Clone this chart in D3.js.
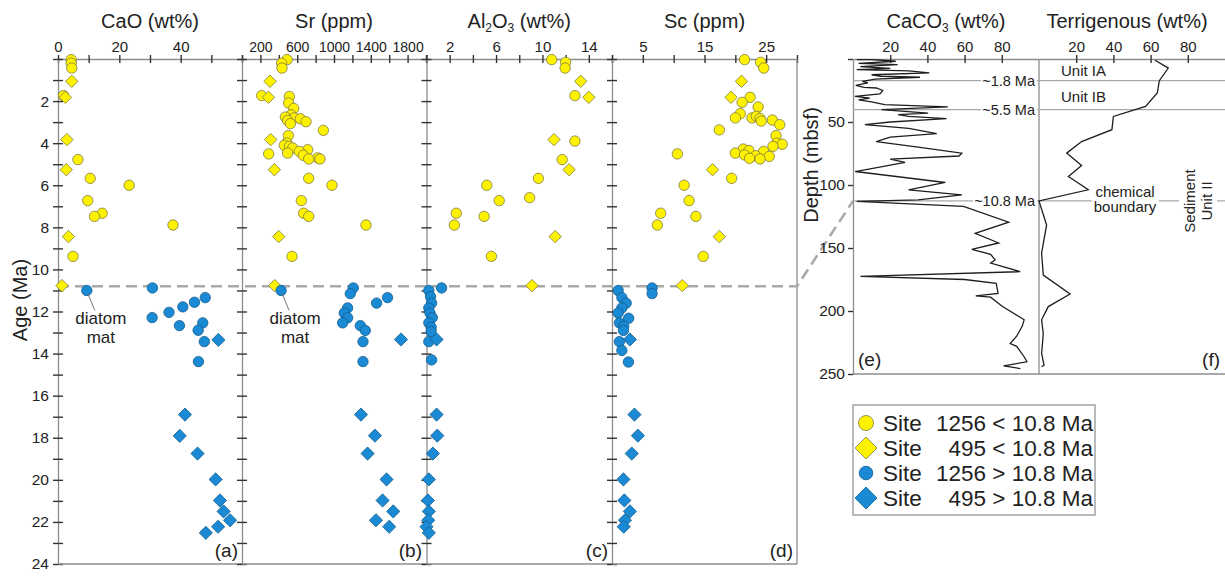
<!DOCTYPE html>
<html>
<head>
<meta charset="utf-8">
<script src="https://cdn.jsdelivr.net/npm/d3@7"></script>
<style>
  body { margin: 0; background: #fff; }
  svg { display: block; font-family: "Liberation Sans", Arial, sans-serif; }
</style>
</head>
<body>
<svg id="chart" width="1225" height="577"></svg>
<script>
// ---- data: [age (Ma), value] ----
var caoYoung1256 = [[0.03,4.3],[0.2,4.3],[0.43,4.5],[1.74,1.8],[4.78,6.5],[5.67,10.5],[6.0,23.2],[6.73,9.7],[7.33,14.4],[7.48,11.9],[7.89,37.5],[9.38,4.9]]
var caoYoung495 = [[1.06,4.5],[1.82,2.4],[3.83,2.9],[5.26,2.7],[8.44,3.4],[10.77,1.3]]
var caoOld1256 = [[10.88,30.8],[11.0,9.4],[11.34,48.0],[11.56,44.5],[11.78,40.7],[12.04,36.2],[12.29,30.7],[12.54,47.2],[12.67,39.6],[12.89,45.7],[13.43,47.7],[14.38,45.8]]
var caoOld495 = [[13.35,52.3],[16.9,41.4],[17.91,39.7],[18.75,45.5],[19.98,51.4],[20.98,52.8],[21.5,54.0],[21.92,56.1],[22.23,52.2],[22.52,48.2]]

var srYoung1256 = [[0.03,490],[0.2,431],[0.43,435],[1.74,214],[1.78,515],[2.09,507],[2.35,562],[2.65,533],[2.76,471],[2.8,569],[2.84,634],[2.92,496],[2.98,696],[3.07,526],[3.39,884],[3.64,504],[3.99,486],[4.1,460],[4.15,515],[4.23,551],[4.31,714],[4.39,623],[4.47,496],[4.51,290],[4.58,667],[4.7,822],[4.75,725],[4.75,848],[5.67,725],[6.0,978],[6.73,645],[7.33,670],[7.48,725],[7.89,1348],[9.38,544]]
var srYoung495 = [[1.06,305],[1.82,287],[3.83,312],[5.26,352],[8.44,399],[10.77,355]]
var srOld1256 = [[10.88,1210],[11.0,425],[11.15,1177],[11.34,1582],[11.6,1463],[11.83,1148],[12.07,1112],[12.3,1148],[12.54,1094],[12.67,1286],[12.9,1340],[13.43,1315],[14.38,1315]]
var srOld495 = [[13.33,1728],[16.9,1293],[17.9,1445],[18.75,1365],[19.98,1571],[20.98,1528],[21.5,1644],[21.92,1456],[22.23,1600]]

var alYoung1256 = [[0.03,10.8],[0.16,12.0],[0.43,11.96],[1.74,12.8],[3.9,12.8],[4.78,11.7],[5.67,9.65],[6.0,5.2],[6.59,8.9],[6.73,6.27],[7.33,2.57],[7.48,4.97],[7.89,2.4],[9.38,5.6]]
var alYoung495 = [[1.06,13.3],[1.82,14.0],[3.83,11.0],[5.26,12.3],[8.44,11.1],[10.77,9.1]]
var alOld1256 = [[10.88,1.3],[11.0,0.2],[11.3,0.35],[11.6,0.44],[11.83,0.2],[12.07,0.3],[12.29,0.5],[12.54,0.2],[12.75,0.4],[12.95,0.4],[13.43,0.2],[14.3,0.44]]
var alOld495 = [[13.33,0.87],[16.9,0.87],[17.9,0.93],[18.75,0.55],[19.98,0.2],[20.98,0.12],[21.5,0.2],[21.92,0.15],[22.23,0.0],[22.52,0.2]]

var scYoung1256 = [[0.03,21.5],[0.16,24.1],[0.43,24.6],[1.82,22.4],[2.06,21.1],[2.28,23.7],[2.6,20.8],[2.8,20.0],[2.8,22.7],[2.72,23.4],[2.82,24.0],[2.95,24.2],[2.9,26.0],[3.12,27.2],[3.37,17.4],[3.64,26.6],[4.0,26.7],[4.05,27.6],[4.15,26.1],[4.28,21.3],[4.35,22.2],[4.39,24.6],[4.47,20.0],[4.51,10.6],[4.56,21.5],[4.6,23.3],[4.63,25.5],[4.72,22.3],[4.75,24.0],[5.67,19.4],[6.0,11.7],[6.73,12.5],[7.33,7.9],[7.48,13.6],[7.89,7.35],[9.38,14.8]]
var scYoung495 = [[1.06,21.0],[1.82,19.3],[5.26,16.3],[8.44,17.4],[10.77,11.4]]
var scOld1256 = [[10.88,6.5],[11.0,1.0],[11.15,6.5],[11.34,1.6],[11.6,2.3],[11.83,1.6],[12.07,1.0],[12.32,2.7],[12.54,1.2],[12.7,1.9],[12.9,1.85],[13.43,1.2],[13.85,1.6],[14.4,2.66]]
var scOld495 = [[13.33,2.9],[16.9,3.64],[17.9,4.2],[18.75,3.2],[19.98,1.85],[20.98,2.0],[21.5,2.9],[21.92,2.1],[22.23,1.9]]

// ---- depth profiles: [depth (mbsf), wt%] ----
var caco3 = [[0.5,2],[0.5,10],[1.8,23],[3.5,3],[4.4,24],[6,4],[7.5,20],[8.5,2],[9.5,30],[11,41],[12.5,10],[13.7,15],[14.5,36],[16,12],[17.7,5],[19,8],[21,1.5],[22.5,6],[23,12.6],[25,16],[27.7,14.5],[29.6,1],[31,9],[32.5,3],[34,10],[36.2,17],[38,51],[40.2,15.3],[42.9,40.4],[44.2,24.3],[45.5,30],[47.4,50.3],[50,20],[52.1,6.4],[55,30],[59.3,45],[62,20],[65.5,12.5],[70,35],[74.7,58.5],[77,57],[79.4,20],[82,28],[89.3,1.2],[98,49.6],[103.8,29.9],[107.8,58.5],[111.8,35],[113,2],[117,59.4],[129.5,83.7],[138.3,65.7],[146,78.3],[151,63.9],[155,74],[159.5,76.4],[162,74],[168.8,89.9],[172.5,4],[175,60],[178,77],[186,78],[188,66],[189,74],[196,80],[207,92],[212,91],[220,88],[225.8,84.5],[228,88],[236.3,92],[240.3,93.5],[243.5,81],[245.7,90]]
var terrigenous = [[1,62.4],[7.2,69.5],[17.2,64.7],[27,63.6],[37.6,57.3],[45.6,40],[56.1,39.2],[65.5,22.9],[74.7,14.9],[84.5,22.9],[93.3,15.8],[103.8,26.5],[112.6,0],[131.7,4.1],[154,1.4],[171.5,2.3],[186.5,16.7],[196.5,5],[207,1.4],[218,2.3],[233.7,1.4],[243,2.7],[244.3,1.4]]

var ageLines = [{label:"~1.8 Ma", depth:17.2},{label:"~5.5 Ma", depth:40.2},{label:"~10.8 Ma", depth:112.6}]
var boundaryAge = 10.8

var legendItems = ["1256 < 10.8 Ma", "495 < 10.8 Ma", "1256 > 10.8 Ma", "495 > 10.8 Ma"]

var yellow = "#fff200", yellowEdge = "#7d7a45"
var blue = "#1a8ad4", blueEdge = "#135c8e"
var axisGrey = "#8c8c8c", tickCol = "#333"

var svg = d3.select("#chart")

var ageY = d3.scaleLinear().domain([0, 24]).range([59, 564])
var depthY = d3.scaleLinear().domain([0, 250]).range([59, 374])

var panels = [
    {tag:"(a)", title:"CaO (wt%)", domain:[0,60], range:[58,242], step:10, labels:[0,20,40],
     data:[caoYoung1256, caoYoung495, caoOld1256, caoOld495]},
    {tag:"(b)", title:"Sr (ppm)", domain:[0,2000], range:[242,426], step:200, labels:[200,600,1000,1400,1800],
     data:[srYoung1256, srYoung495, srOld1256, srOld495]},
    {tag:"(c)", title:"AL2O3", domain:[0,16], range:[426.5,612], step:2, labels:[2,6,10,14],
     data:[alYoung1256, alYoung495, alOld1256, alOld495]},
    {tag:"(d)", title:"Sc (ppm)", domain:[0,30], range:[612,797], step:5, labels:[5,15,25],
     data:[scYoung1256, scYoung495, scOld1256, scOld495]}
]

var styleAxis = (g) => {
    g.select(".domain").attr("stroke", axisGrey).attr("stroke-width", 1.3)
    g.selectAll(".tick line").attr("stroke", tickCol).attr("stroke-width", 1.4)
    g.selectAll(".tick text").attr("fill", "#222").attr("font-family", "Liberation Sans, Arial, sans-serif")
}

var diamond = (half) => `M0,${-half}L${half},0L0,${half}L${-half},0Z`

// ---- panels a-d ----
panels.forEach((p, i) => {
    var x = d3.scaleLinear().domain(p.domain).range(p.range)
    var cx = (p.range[0] + p.range[1]) / 2

    // top axis, ticks crossing the line
    var top = svg.append("g").attr("transform", `translate(0,${ageY(0)})`)
        .call(d3.axisTop(x).tickValues(d3.range(p.domain[0], p.domain[1] + 0.001, p.step))
            .tickSize(4).tickSizeOuter(0).tickPadding(3)
            .tickFormat(d => p.labels.includes(d) ? d : ""))
    top.selectAll(".tick line").attr("y1", 4)
    top.selectAll(".tick text").attr("font-size", i == 1 ? 14 : 15)
    styleAxis(top)

    // left axis of the panel (age ticks)
    var left = svg.append("g").attr("transform", `translate(${p.range[0]},0)`)
        .call(d3.axisLeft(ageY).tickValues(d3.range(0, 25, 1)).tickSize(5).tickSizeOuter(0).tickPadding(4)
            .tickFormat(d => (i == 0 && d % 2 == 0 && d > 0) ? d : ""))
    left.selectAll(".tick line").attr("x1", 5)
    left.selectAll(".tick text").attr("font-size", 15.5)
    styleAxis(left)

    // bottom edge
    svg.append("line").attr("x1", p.range[0]).attr("x2", p.range[1])
        .attr("y1", ageY(24)).attr("y2", ageY(24))
        .attr("stroke", axisGrey).attr("stroke-width", 1.3)

    // title
    var t = svg.append("text").attr("x", cx).attr("y", 28).attr("text-anchor", "middle")
        .attr("font-size", 20).attr("fill", "#222")
    if (p.title == "AL2O3") {
        t.append("tspan").text("Al")
        t.append("tspan").text("2").attr("font-size", 12).attr("dy", 4)
        t.append("tspan").text("O").attr("dy", -4)
        t.append("tspan").text("3").attr("font-size", 12).attr("dy", 4)
        t.append("tspan").text(" (wt%)").attr("dy", -4)
    } else {
        t.text(p.title)
    }

    svg.append("text").attr("x", p.range[1] - 4).attr("y", 557).attr("text-anchor", "end")
        .attr("font-size", 19).attr("fill", "#222").text(p.tag)
    p.x = x
})

// right edge of panel d
svg.append("line").attr("x1", 797).attr("x2", 797).attr("y1", ageY(0)).attr("y2", ageY(24))
    .attr("stroke", axisGrey).attr("stroke-width", 1.3)

// "Age (Ma)"
svg.append("text").attr("transform", "translate(27,300) rotate(-90)").attr("text-anchor", "middle")
    .attr("font-size", 20).attr("fill", "#222").text("Age (Ma)")

// ---- boundary dashed line ----
var eX = d3.scaleLinear().domain([0, 100]).range([853, 1039])
var fX = d3.scaleLinear().domain([0, 100]).range([1039, 1225])

svg.append("path")
    .attr("d", d3.line()([[58, ageY(boundaryAge)], [797, ageY(boundaryAge)], [eX(0), depthY(ageLines[2].depth)]]))
    .attr("fill", "none").attr("stroke", "#aaa").attr("stroke-width", 2.6)
    .attr("stroke-dasharray", "11,6")

// ---- points ----
panels.forEach((p) => {
    var g = svg.append("g")
    var [y1256, y495, o1256, o495] = p.data
    g.selectAll(".yc").data(y1256).enter().append("circle")
        .attr("cx", d => p.x(d[1])).attr("cy", d => ageY(d[0])).attr("r", 5.2)
        .attr("fill", yellow).attr("stroke", yellowEdge).attr("stroke-width", 0.8)
    g.selectAll(".yd").data(y495).enter().append("path")
        .attr("d", diamond(6.2)).attr("transform", d => `translate(${p.x(d[1])},${ageY(d[0])})`)
        .attr("fill", yellow).attr("stroke", yellowEdge).attr("stroke-width", 0.8)
    g.selectAll(".bc").data(o1256).enter().append("circle")
        .attr("cx", d => p.x(d[1])).attr("cy", d => ageY(d[0])).attr("r", 5.2)
        .attr("fill", blue).attr("stroke", blueEdge).attr("stroke-width", 0.8)
    g.selectAll(".bd").data(o495).enter().append("path")
        .attr("d", diamond(6.6)).attr("transform", d => `translate(${p.x(d[1])},${ageY(d[0])})`)
        .attr("fill", blue).attr("stroke", blueEdge).attr("stroke-width", 0.8)
})

// diatom mat notes (a) and (b)
;[[panels[0], caoOld1256[1]], [panels[1], srOld1256[1]]].forEach(([p, d]) => {
    var px = p.x(d[1]), py = ageY(d[0])
    svg.append("line").attr("x1", px + 1).attr("y1", py + 3).attr("x2", px + 8).attr("y2", py + 20)
        .attr("stroke", "#777").attr("stroke-width", 1)
    var t = svg.append("text").attr("text-anchor", "middle").attr("font-size", 17).attr("fill", "#222")
    t.append("tspan").attr("x", px + 14).attr("y", py + 34).text("diatom")
    t.append("tspan").attr("x", px + 14).attr("y", py + 53).text("mat")
})

// ---- panels e, f ----
var eTop = svg.append("g").attr("transform", `translate(0,${depthY(0)})`)
    .call(d3.axisTop(eX).tickValues([20, 40, 60, 80]).tickSize(4).tickSizeOuter(0).tickPadding(3))
eTop.selectAll(".tick line").attr("y1", 4)
eTop.selectAll(".tick text").attr("font-size", 15)
styleAxis(eTop)

var fTop = svg.append("g").attr("transform", `translate(0,${depthY(0)})`)
    .call(d3.axisTop(fX).tickValues([20, 40, 60, 80]).tickSize(4).tickSizeOuter(0).tickPadding(3))
fTop.selectAll(".tick line").attr("y1", 4)
fTop.selectAll(".tick text").attr("font-size", 15)
styleAxis(fTop)

var eLeft = svg.append("g").attr("transform", `translate(${eX(0)},0)`)
    .call(d3.axisLeft(depthY).tickValues([0, 50, 100, 150, 200, 250]).tickSize(5).tickSizeOuter(0).tickPadding(3)
        .tickFormat(d => d > 0 ? d : ""))
eLeft.selectAll(".tick text").attr("font-size", 15.5)
styleAxis(eLeft)

svg.append("line").attr("x1", fX(0)).attr("x2", fX(0)).attr("y1", depthY(0)).attr("y2", depthY(250))
    .attr("stroke", axisGrey).attr("stroke-width", 1.3)
svg.append("line").attr("x1", eX(0)).attr("x2", 1225).attr("y1", depthY(250)).attr("y2", depthY(250))
    .attr("stroke", axisGrey).attr("stroke-width", 1.3)

svg.append("text").attr("x", 946).attr("y", 28).attr("text-anchor", "middle").attr("font-size", 20).attr("fill", "#222")
    .call(t => {
        t.append("tspan").text("CaCO")
        t.append("tspan").text("3").attr("font-size", 12).attr("dy", 4)
        t.append("tspan").text(" (wt%)").attr("dy", -4)
    })
svg.append("text").attr("x", 1127).attr("y", 28).attr("text-anchor", "middle").attr("font-size", 20)
    .attr("fill", "#222").text("Terrigenous (wt%)")
svg.append("text").attr("transform", "translate(818,165) rotate(-90)").attr("text-anchor", "middle")
    .attr("font-size", 20).attr("fill", "#222").text("Depth (mbsf)")

// age horizons
ageLines.forEach(a => {
    var y = depthY(a.depth)
    svg.append("line").attr("x1", eX(0)).attr("x2", 1225).attr("y1", y).attr("y2", y)
        .attr("stroke", "#a8a8a8").attr("stroke-width", 1.3)
})

var line = d3.line().x(d => d[0]).y(d => d[1])
svg.append("path").datum(caco3)
    .attr("d", d => line(d.map(p => [eX(p[1]), depthY(p[0])])))
    .attr("fill", "none").attr("stroke", "#1e1e1e").attr("stroke-width", 1.3)
svg.append("path").datum(terrigenous)
    .attr("d", d => line(d.map(p => [fX(p[1]), depthY(p[0])])))
    .attr("fill", "none").attr("stroke", "#1e1e1e").attr("stroke-width", 1.3)

// labels with white backing
var backed = (sel, pad) => {
    var b = sel.node().getBBox()
    svg.insert("rect", () => sel.node()).attr("x", b.x - pad).attr("y", b.y)
        .attr("width", b.width + 2 * pad).attr("height", b.height).attr("fill", "#fff")
}
ageLines.forEach(a => {
    var t = svg.append("text").attr("x", 1035).attr("y", depthY(a.depth) + 5).attr("text-anchor", "end")
        .attr("font-size", 14.5).attr("fill", "#222").text(a.label)
    backed(t, 1)
})

svg.append("text").attr("x", 1061).attr("y", 76).attr("font-size", 15).attr("fill", "#222").text("Unit IA")
svg.append("text").attr("x", 1061).attr("y", 102).attr("font-size", 15).attr("fill", "#222").text("Unit IB")
var cb = svg.append("text").attr("text-anchor", "middle").attr("font-size", 15).attr("fill", "#222")
cb.append("tspan").attr("x", 1125).attr("y", 197).text("chemical")
cb.append("tspan").attr("x", 1125).attr("y", 212).text("boundary")
backed(cb, 2)
var su = svg.append("text").attr("transform", "translate(1195,201) rotate(-90)").attr("text-anchor", "middle")
    .attr("font-size", 15).attr("fill", "#222")
su.append("tspan").attr("x", 0).attr("y", 0).text("Sediment")
su.append("tspan").attr("x", 0).attr("y", 17).text("Unit II")
var sb = su.node().getBoundingClientRect()
svg.insert("rect", () => su.node()).attr("x", sb.x - 2).attr("y", sb.y - 2)
    .attr("width", sb.width + 4).attr("height", sb.height + 4).attr("fill", "#fff")

svg.append("text").attr("x", 858).attr("y", 366).attr("font-size", 19).attr("fill", "#222").text("(e)")
svg.append("text").attr("x", 1220).attr("y", 366).attr("text-anchor", "end").attr("font-size", 19).attr("fill", "#222").text("(f)")

// ---- legend ----
var lg = svg.append("g")
lg.append("rect").attr("x", 853).attr("y", 405).attr("width", 242).attr("height", 110)
    .attr("fill", "#fff").attr("stroke", "#8c8c8c").attr("stroke-width", 1.2)
var rowY = d3.scalePoint().domain(legendItems).range([423, 498])
legendItems.forEach((lab, i) => {
    var y = rowY(lab)
    var fill = i < 2 ? yellow : blue, edge = i < 2 ? yellowEdge : blueEdge
    if (i % 2 == 0) {
        lg.append("circle").attr("cx", 866).attr("cy", y).attr("r", i == 0 ? 7.5 : 6.8)
            .attr("fill", fill).attr("stroke", edge).attr("stroke-width", 0.8)
    } else {
        lg.append("path").attr("d", diamond(11)).attr("transform", `translate(866,${y})`)
            .attr("fill", fill).attr("stroke", edge).attr("stroke-width", 0.8)
    }
    lg.append("text").attr("x", 883).attr("y", y + 8).attr("font-size", 22.5).attr("fill", "#222").text("Site")
    lg.append("text").attr("x", 1093).attr("y", y + 8).attr("text-anchor", "end")
        .attr("font-size", 22.5).attr("fill", "#222").text(lab)
})
</script>
</body>
</html>
